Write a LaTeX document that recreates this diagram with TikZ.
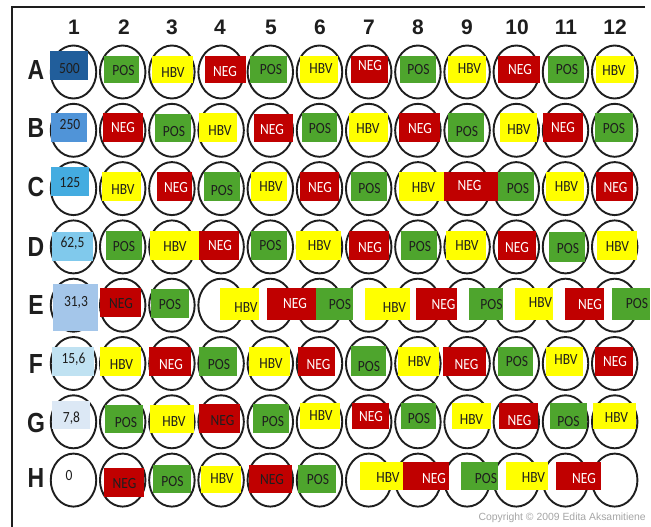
\documentclass[tikz,border=0pt]{standalone}
\usepackage{fontspec}
\usepackage{graphicx}
\setmainfont{Carlito}
\newfontfamily\arialf{Liberation Sans}
\usetikzlibrary{shapes.geometric}
\definecolor{gpos}{RGB}{78,165,45}
\definecolor{rneg}{RGB}{192,0,0}
\definecolor{yhbv}{RGB}{255,255,0}
\definecolor{ink}{RGB}{30,30,30}
\definecolor{cA}{RGB}{33,94,155}
\definecolor{cB}{RGB}{80,148,216}
\definecolor{cC}{RGB}{68,172,224}
\definecolor{cD}{RGB}{128,201,236}
\definecolor{cE}{RGB}{164,198,234}
\definecolor{cF}{RGB}{192,226,242}
\definecolor{cG}{RGB}{220,232,245}
\definecolor{copyc}{RGB}{165,165,165}
\tikzset{
 well/.style={ellipse, draw=ink, line width=1.9pt, minimum width=45.5pt, minimum height=53pt, inner sep=0},
 wbox/.style={rectangle, inner sep=0, draw=none},
 wtxt/.style={inner sep=0, text depth=0pt, font=\fontsize{13.5}{14}\selectfont},
 cpos/.style={fill=gpos}, cneg/.style={fill=rneg}, chbv/.style={fill=yhbv}, cnegk/.style={fill=rneg},
 cpost/.style={text=ink}, cnegt/.style={text=white}, chbvt/.style={text=ink}, cnegkt/.style={text=ink},
 collbl/.style={font=\arialf\bfseries\fontsize{21}{22}\selectfont, text=ink, inner sep=0, text depth=0pt},
 rowlbl/.style={font=\arialf\bfseries\fontsize{23}{24}\selectfont, text=ink, inner sep=0, text depth=0pt},
}
\def\wtxcpos{POS}\def\wtxcneg{NEG}\def\wtxchbv{HBV}\def\wtxcnegk{NEG}
\newcommand\wb[8]{%
  \node[wbox,#6,minimum width={(#4-#2)*1pt},minimum height={(#5-#3)*1pt}] (#1) at ({(#2+#4)/2},{(#3+#5)/2}) {};
  \node[wtxt,#6t] (#1t) at (#7,#8) {\scalebox{1}[1.15]{\csname wtx#6\endcsname}};
}
\newcommand\cb[9]{%
  \node[wbox,fill=#6,minimum width={(#4-#2)*1pt},minimum height={(#5-#3)*1pt}] (#1) at ({(#2+#4)/2},{(#3+#5)/2}) {};
  \node[wtxt,text=ink] (#1t) at (#8,#9) {\scalebox{1}[1.15]{#7}};
}
\begin{document}
\begin{tikzpicture}[x=1pt,y=-1pt]
\useasboundingbox[fill=white] (0,0) rectangle (651,527);
\coordinate (fr1) at (645,7);
\coordinate (fr2) at (12,7);
\coordinate (fr3) at (12,527);
\draw[ink, line width=2.3pt] (fr1) -- (fr2) -- (fr3);
\foreach \c/\x in {1/74,2/124,3/172,4/220,5/271,6/320,7/369,8/418,9/467,10/517,11/566,12/615}
  \node[collbl] (col\c) at (\x,27.5) {\c};
\foreach \r/\y in {A/70,B/128,C/187,D/247,E/305,F/364,G/423,H/478}
  \node[rowlbl] (row\r) at (36,\y) {\scalebox{1}[1.2]{\r}};
\foreach \r [count=\i from 0] in {A,B,C,D,E,F,G,H}
  \foreach \c [count=\j from 0] in {1,...,12}
    \node[well] (w\r\c) at ({73.5+49.2*\j},{72+58.3*\i}) {};
% Row A
\cb{A1}{50}{51}{88}{80}{cA}{500}{69.5}{68}
\wb{A2}{104}{56}{139}{83}{cpos}{123.5}{70}
\wb{A3}{152}{56}{193}{83}{chbv}{173}{73}
\wb{A4}{205}{56}{246}{83}{cneg}{225}{71}
\wb{A5}{250}{56}{287}{83}{cpos}{271}{69}
\wb{A6}{300}{56}{338}{83}{chbv}{321}{69}
\wb{A7}{351}{56}{388}{83}{cneg}{370}{65}
\wb{A8}{400}{56}{436}{83}{cpos}{418.5}{69}
\wb{A9}{448}{56}{486}{83}{chbv}{469.5}{69}
\wb{A10}{498}{56}{540}{83}{cneg}{520}{69}
\wb{A11}{548}{56}{584}{83}{cpos}{567}{69}
\wb{A12}{596}{56}{634}{83}{chbv}{614}{71}
% Row B
\cb{B1}{51}{113}{87}{142}{cB}{250}{70}{124}
\wb{B2}{103}{113}{143}{142}{cneg}{123}{127}
\wb{B3}{155}{114}{191}{142}{cpos}{174}{131}
\wb{B4}{199}{113}{237}{142}{chbv}{220}{131}
\wb{B5}{254}{114}{293}{142}{cneg}{272}{129}
\wb{B6}{302}{113}{337}{142}{cpos}{320}{128}
\wb{B7}{349}{113}{388}{142}{chbv}{368}{129}
\wb{B8}{399}{113}{440}{142}{cneg}{420}{128}
\wb{B9}{448}{113}{484}{142}{cpos}{467}{131}
\wb{B10}{500}{113}{537}{142}{chbv}{519}{130}
\wb{B11}{543}{113}{583}{142}{cneg}{563}{127}
\wb{B12}{595}{113}{633}{142}{cpos}{614}{128}
% Row C
\cb{C1}{51}{167}{89}{196}{cC}{125}{70}{182}
\wb{C2}{102}{172}{141}{201}{chbv}{123}{190}
\wb{C3}{157}{172}{192}{201}{cneg}{176}{187}
\wb{C4}{204}{172}{240}{201}{cpos}{222}{190}
\wb{C5}{251}{172}{287}{201}{chbv}{271}{187}
\wb{C6}{300}{172}{339}{201}{cneg}{320}{187}
\wb{C7}{351}{172}{387}{201}{cpos}{369.5}{188}
\wb{C8}{399}{172}{444}{201}{chbv}{423.5}{188}
\wb{C9}{444}{172}{498}{201}{cneg}{469.5}{185}
\wb{C10}{498}{172}{534}{201}{cpos}{518}{188}
\wb{C11}{546}{172}{584}{201}{chbv}{566.5}{187}
\wb{C12}{596}{172}{633}{201}{cneg}{615.5}{187}
% Row D
\cb{D1}{52}{232}{93}{261}{cD}{62,5}{72.5}{242}
\wb{D2}{106}{231}{142}{260}{cpos}{124}{246}
\wb{D3}{150}{231}{199}{260}{chbv}{175}{247}
\wb{D4}{199}{231}{239}{260}{cneg}{220}{245}
\wb{D5}{251}{231}{287}{260}{cpos}{270.5}{245}
\wb{D6}{296}{231}{341}{260}{chbv}{319.5}{246}
\wb{D7}{349}{231}{389}{260}{cneg}{370}{247}
\wb{D8}{401}{231}{437}{260}{cpos}{420}{246}
\wb{D9}{446}{231}{486}{260}{chbv}{467}{246}
\wb{D10}{498}{231}{536}{260}{cneg}{517}{247}
\wb{D11}{549}{232}{585}{262}{cpos}{568}{248}
\wb{D12}{597}{231}{637}{260}{chbv}{617.5}{247}
% Row E
\cb{E1}{53}{284}{98}{331}{cE}{31,3}{76}{301}
\wb{E2}{100}{288}{141}{317}{cnegk}{121}{303}
\wb{E3}{151}{289}{189}{318}{cpos}{170}{304}
\wb{E4}{220}{288}{259}{320}{chbv}{246}{308}
\wb{E5}{267}{288}{316}{320}{cneg}{295}{303}
\wb{E6}{316}{288}{353}{320}{cpos}{340}{304}
\wb{E7}{365}{288}{410}{320}{chbv}{394.5}{308}
\wb{E8}{416}{288}{457}{320}{cneg}{443.5}{304}
\wb{E9}{469}{288}{503}{320}{cpos}{491.5}{304}
\wb{E10}{515}{288}{553}{320}{chbv}{540.5}{303}
\wb{E11}{565}{288}{604}{320}{cneg}{590}{304}
\wb{E12}{612}{288}{650}{320}{cpos}{637}{303}
% Row F
\cb{F1}{52}{347}{94}{376}{cF}{15,6}{73.5}{358}
\wb{F2}{100}{347}{141}{376}{chbv}{121.5}{365}
\wb{F3}{149}{347}{191}{376}{cneg}{171}{364}
\wb{F4}{199}{347}{237}{376}{cpos}{219}{364}
\wb{F5}{249}{347}{290}{376}{chbv}{271}{364}
\wb{F6}{298}{347}{335}{376}{cneg}{318.5}{364}
\wb{F7}{351}{346}{386}{376}{cpos}{369}{366}
\wb{F8}{398}{347}{439}{376}{chbv}{419.5}{362}
\wb{F9}{443}{347}{486}{376}{cneg}{466.5}{364}
\wb{F10}{498}{347}{533}{376}{cpos}{517}{361}
\wb{F11}{546}{347}{583}{376}{chbv}{566}{360}
\wb{F12}{595}{347}{633}{376}{cneg}{615}{361}
% Row G
\cb{G1}{52}{401}{90}{429}{cG}{7,8}{71.5}{417}
\wb{G2}{105}{405}{143}{433}{cpos}{126}{422}
\wb{G3}{150}{405}{194}{433}{chbv}{174}{422}
\wb{G4}{199}{404}{240}{433}{cnegk}{222.5}{420}
\wb{G5}{253}{404}{289}{433}{cpos}{273}{421}
\wb{G6}{300}{403}{340}{429}{chbv}{321}{416}
\wb{G7}{352}{403}{389}{429}{cneg}{371}{416}
\wb{G8}{401}{403}{436}{429}{cpos}{419}{418}
\wb{G9}{452}{403}{491}{429}{chbv}{471.5}{420}
\wb{G10}{499}{403}{538}{429}{cneg}{519.5}{420}
\wb{G11}{550}{403}{587}{429}{cpos}{568.5}{421}
\wb{G12}{593}{403}{636}{429}{chbv}{616.5}{418}
% Row H
\node[wtxt,text=ink] (H1t) at (69,475) {\scalebox{1}[1.15]{0}};
\wb{H2}{104}{468}{144}{497}{cnegk}{124.5}{483}
\wb{H3}{153}{465}{191}{493}{cpos}{172.5}{481}
\wb{H4}{201}{466}{241}{493}{chbv}{222}{479}
\wb{H5}{249}{465}{292}{493}{cnegk}{272}{479}
\wb{H6}{298}{465}{336}{493}{cpos}{318}{479}
\wb{H7}{360}{462}{403}{490}{chbv}{388}{478}
\wb{H8}{403}{462}{449}{490}{cneg}{434}{478}
\wb{H9}{461}{462}{498}{490}{cpos}{486}{478}
\wb{H10}{506}{462}{548}{490}{chbv}{533.5}{478}
\wb{H11}{556}{462}{601}{490}{cneg}{584}{478}
\node[font=\arialf\fontsize{10.4}{11}\selectfont, text=copyc, anchor=east, inner sep=0] (copy) at (646,518) {Copyright © 2009 Edita Aksamitiene};
\end{tikzpicture}
\end{document}
